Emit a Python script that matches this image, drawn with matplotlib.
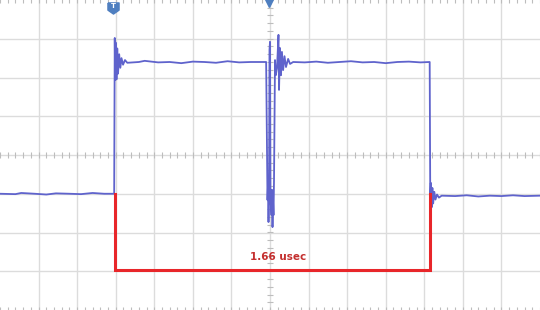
import matplotlib
matplotlib.use("Agg")
import matplotlib.pyplot as plt
import numpy as np

# trace, x in divisions (0..14), y in divisions (-4..4)
trace_t = [0.00, 0.40, 0.55, 0.90, 1.20, 1.45, 1.80, 2.10, 2.40, 2.70, 2.96,
           2.975, 2.985, 3.00, 3.02, 3.04, 3.06, 3.09, 3.12, 3.15, 3.19, 3.24, 3.30,
           3.60, 3.75, 4.10, 4.40, 4.70, 5.00, 5.30, 5.60, 5.90, 6.20, 6.50, 6.88,
           6.90, 6.935, 6.948, 6.961, 6.974, 6.987, 7.000, 7.013, 7.039, 7.052,
           7.065, 7.078, 7.091, 7.104, 7.130, 7.150, 7.182, 7.220, 7.234, 7.260,
           7.285, 7.310, 7.340, 7.376, 7.415, 7.470, 7.520, 7.600,
           7.90, 8.20, 8.50, 8.80, 9.10, 9.40, 9.70, 10.00, 10.30, 10.60, 10.90, 11.14,
           11.155, 11.17, 11.19, 11.21, 11.23, 11.26, 11.29, 11.33, 11.38, 11.45,
           11.80, 12.10, 12.40, 12.70, 13.00, 13.30, 13.60, 14.00]
trace_v = [-1.00, -1.01, -0.98, -1.00, -1.02, -0.99, -1.00, -1.01, -0.98, -1.00, -1.00,
           3.02, 1.94, 2.90, 1.95, 2.75, 2.10, 2.60, 2.25, 2.50, 2.33, 2.45, 2.38,
           2.40, 2.43, 2.39, 2.40, 2.37, 2.41, 2.40, 2.38, 2.42, 2.39, 2.40, 2.40,
           2.40, -1.16, -0.77, -1.73, -1.03, 2.71, 2.92, -1.16, -1.55, -0.90,
           -1.86, -1.16, -1.55, -0.65, 2.45, 2.06, 2.25, 3.10, 1.68, 2.76,
           2.06, 2.66, 2.19, 2.55, 2.27, 2.48, 2.35, 2.40,
           2.39, 2.41, 2.38, 2.40, 2.42, 2.39, 2.40, 2.37, 2.40, 2.41, 2.39, 2.40,
           -1.20, -0.72, -1.35, -0.85, -1.25, -0.95, -1.15, -1.02, -1.10, -1.05,
           -1.06, -1.04, -1.07, -1.05, -1.06, -1.04, -1.06, -1.05]

# measurement bracket
meas_start = 2.98
meas_end = 11.15
meas_top = -1.0
meas_bottom = -2.97
meas_label = "1.66 usec"

fig = plt.figure(figsize=(5.4, 3.1), dpi=100)
ax = fig.add_axes([0, 0, 1, 1])
ax.set_xlim(0, 14)
ax.set_ylim(-4, 4)

# graticule
for gx in range(1, 14):
    ax.axvline(gx, color='#dcdcdc', lw=1.0, zorder=0)
for gy in range(-3, 4):
    ax.axhline(gy, color='#dcdcdc', lw=1.0, zorder=0)
minor_x = np.arange(0, 14.01, 0.2)
minor_y = np.arange(-4, 4.01, 0.2)
ax.plot(minor_x, np.zeros_like(minor_x), ls='none', marker='|', ms=4, color='#bdbdbd', mew=0.8, zorder=0)
ax.plot(np.full_like(minor_y, 7.0), minor_y, ls='none', marker='_', ms=4, color='#bdbdbd', mew=0.8, zorder=0)
ax.plot(minor_x, np.full_like(minor_x, 4.0), ls='none', marker='|', ms=4, color='#bdbdbd', mew=0.8, zorder=0)
ax.plot(minor_x, np.full_like(minor_x, -4.0), ls='none', marker='|', ms=4, color='#bdbdbd', mew=0.8, zorder=0)

ax.set_xticks([])
ax.set_yticks([])
for s in ax.spines.values():
    s.set_visible(False)

# waveform
ax.plot(trace_t, trace_v, color='#5f63cc', lw=1.3, zorder=3)

# measurement bracket
ax.plot([meas_start, meas_start, meas_end, meas_end],
        [meas_top, meas_bottom, meas_bottom, meas_top],
        color='#e8262a', lw=2.2, zorder=4, solid_joinstyle='miter')
ax.text((meas_start + meas_end) / 2 + 0.15, meas_bottom + 0.33, meas_label,
        color='#c4302f', fontsize=7.5, fontweight='bold', ha='center', va='center', zorder=5)

# trigger markers
badge = [(-1, 1), (1, 1), (1, -0.3), (0, -1), (-1, -0.3), (-1, 1)]
ax.plot([2.93], [3.80], marker=badge, ms=8, color='#4f7fc0', ls='none', zorder=6)
ax.text(2.93, 3.84, "T", color='white', fontsize=5, fontweight='bold', ha='center', va='center', zorder=7)
ax.plot([6.98], [3.93], marker='v', ms=6, color='#4f7fc0', ls='none', zorder=6)

fig.savefig("out.png", dpi=100)
